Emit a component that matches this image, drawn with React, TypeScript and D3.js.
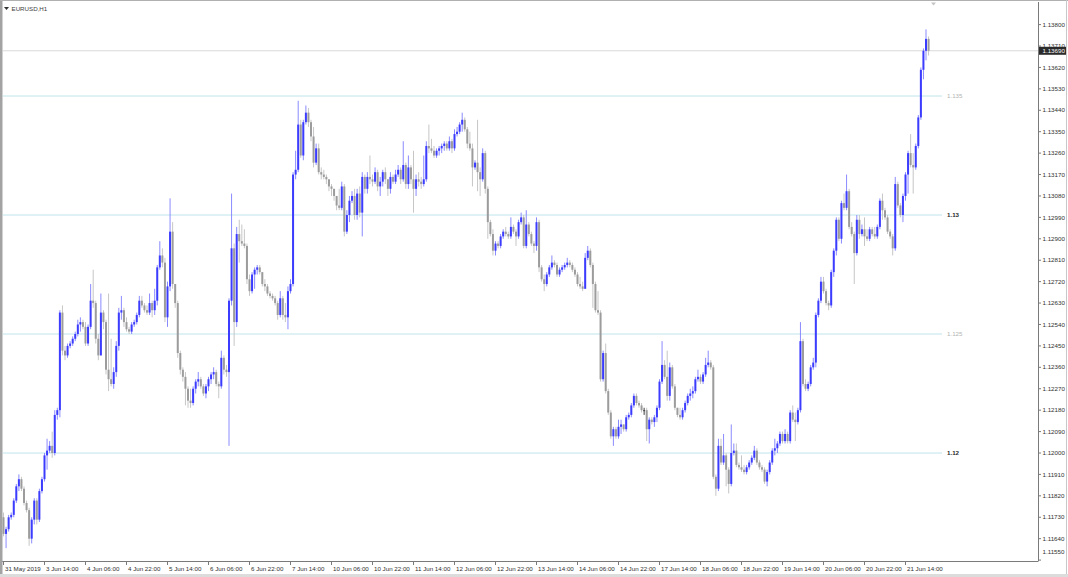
import React from 'react';
import * as d3 from 'd3';

const chartTitle = 'EURUSD,H1';
const firstOpen = 1.1173;

const closes = [
  1.1166, 1.1168, 1.1173, 1.1174, 1.1180, 1.1186, 1.1189, 1.1185, 1.1179, 1.1176,
  1.1164, 1.1172, 1.1180, 1.1172, 1.1184, 1.1189, 1.1199, 1.1201, 1.1203, 1.1200,
  1.1216, 1.1218, 1.1259, 1.1243, 1.1241, 1.1245, 1.1246, 1.1248, 1.1250, 1.1254,
  1.1255, 1.1253, 1.1246, 1.1253, 1.1264, 1.1263, 1.1248, 1.1241, 1.1259, 1.1255,
  1.1235, 1.1231, 1.1229, 1.1234, 1.1245, 1.1259, 1.1260, 1.1255, 1.1252, 1.1251,
  1.1254, 1.1255, 1.1258, 1.1264, 1.1262, 1.1260, 1.1259, 1.1263, 1.1260, 1.1264,
  1.1278, 1.1283, 1.1280, 1.1257, 1.1270, 1.1293, 1.1271, 1.1263, 1.1242, 1.1235,
  1.1232, 1.1227, 1.1222, 1.1221, 1.1227, 1.1230, 1.1231, 1.1228, 1.1225, 1.1228,
  1.1231, 1.1233, 1.1234, 1.1229, 1.1228, 1.1240, 1.1235, 1.1234, 1.1264, 1.1286,
  1.1255, 1.1292, 1.1289, 1.1288, 1.1287, 1.1273, 1.1268, 1.1275, 1.1277, 1.1278,
  1.1276, 1.1271, 1.1270, 1.1267, 1.1266, 1.1265, 1.1263, 1.1258, 1.1265, 1.1258,
  1.1257, 1.1268, 1.1271, 1.1317, 1.1319, 1.1338, 1.1325, 1.1339, 1.1343, 1.1339,
  1.1333, 1.1322, 1.1328, 1.1318, 1.1317, 1.1316, 1.1315, 1.1312, 1.1311, 1.1308,
  1.1304, 1.1303, 1.1312, 1.1293, 1.1300, 1.1306, 1.1308, 1.1300, 1.1309, 1.1301,
  1.1316, 1.1311, 1.1316, 1.1315, 1.1314, 1.1318, 1.1312, 1.1314, 1.1318, 1.1315,
  1.1311, 1.1316, 1.1314, 1.1317, 1.1319, 1.1315, 1.1321, 1.1313, 1.1320, 1.1315,
  1.1311, 1.1315, 1.1314, 1.1313, 1.1315, 1.1329, 1.1328, 1.1327, 1.1325, 1.1327,
  1.1328, 1.1329, 1.1330, 1.1328, 1.1331, 1.1328, 1.1334, 1.1335, 1.1338, 1.1340,
  1.1336, 1.1330, 1.1328, 1.1320, 1.1322, 1.1318, 1.1315, 1.1326, 1.1311, 1.1297,
  1.1292, 1.1285, 1.1288, 1.1287, 1.1291, 1.1293, 1.1292, 1.1291, 1.1295, 1.1293,
  1.1291, 1.1297, 1.1299, 1.1287, 1.1296, 1.1292, 1.1288, 1.1287, 1.1297, 1.1278,
  1.1273, 1.1271, 1.1275, 1.1278, 1.1280, 1.1279, 1.1275, 1.1277, 1.1278, 1.1279,
  1.1280, 1.1279, 1.1277, 1.1275, 1.1271, 1.1270, 1.1269, 1.1282, 1.1285, 1.1279,
  1.1271, 1.1260, 1.1259, 1.1231, 1.1242, 1.1226, 1.1217, 1.1207, 1.1210, 1.1207,
  1.1211, 1.1212, 1.1210, 1.1215, 1.1216, 1.1220, 1.1224, 1.1221, 1.1220, 1.1218,
  1.1218, 1.1210, 1.1214, 1.1213, 1.1215, 1.1219, 1.1230, 1.1237, 1.1232, 1.1224,
  1.1236, 1.1228, 1.1219, 1.1216, 1.1215, 1.1218, 1.1221, 1.1224, 1.1225, 1.1226,
  1.1231, 1.1232, 1.1230, 1.1233, 1.1237, 1.1238, 1.1236, 1.1190, 1.1185, 1.1203,
  1.1196, 1.1199, 1.1193, 1.1187, 1.1200, 1.1201, 1.1195, 1.1194, 1.1193, 1.1192,
  1.1194, 1.1196, 1.1198, 1.1201, 1.1196, 1.1194, 1.1193, 1.1188, 1.1192, 1.1196,
  1.1201, 1.1202, 1.1204, 1.1208, 1.1205, 1.1208, 1.1205, 1.1217, 1.1214, 1.1213,
  1.1218, 1.1247, 1.1229, 1.1227, 1.1229, 1.1236, 1.1238, 1.1258, 1.1264, 1.1272,
  1.1268, 1.1263, 1.1262, 1.1276, 1.1285, 1.1298, 1.1290, 1.1305, 1.1303, 1.1310,
  1.1295, 1.1292, 1.1284, 1.1298, 1.1292, 1.1294, 1.1291, 1.1290, 1.1294, 1.1292,
  1.1291, 1.1295, 1.1306, 1.1302, 1.1299, 1.1293, 1.1291, 1.1286, 1.1313, 1.1304,
  1.1300, 1.1308, 1.1317, 1.1326, 1.1321, 1.1320, 1.1329, 1.1341, 1.1361, 1.1369,
  1.1374, 1.1369,
];

const highs = [
  1.1175, 1.1169, 1.1174, 1.1175, 1.1181, 1.1187, 1.1191, 1.1190, 1.1186, 1.1180,
  1.1177, 1.1173, 1.1181, 1.1181, 1.1185, 1.1190, 1.1200, 1.1206, 1.1205, 1.1209,
  1.1218, 1.1219, 1.1260, 1.1262, 1.1245, 1.1246, 1.1247, 1.1249, 1.1251, 1.1256,
  1.1257, 1.1256, 1.1255, 1.1254, 1.1271, 1.1277, 1.1264, 1.1250, 1.1267, 1.1260,
  1.1256, 1.1267, 1.1248, 1.1236, 1.1247, 1.1261, 1.1266, 1.1261, 1.1257, 1.1253,
  1.1255, 1.1256, 1.1259, 1.1266, 1.1266, 1.1263, 1.1262, 1.1267, 1.1264, 1.1269,
  1.1279, 1.1289, 1.1286, 1.1282, 1.1272, 1.1307, 1.1297, 1.1271, 1.1264, 1.1243,
  1.1236, 1.1234, 1.1228, 1.1227, 1.1228, 1.1231, 1.1234, 1.1232, 1.1229, 1.1229,
  1.1232, 1.1234, 1.1236, 1.1235, 1.1230, 1.1243, 1.1241, 1.1237, 1.1265, 1.1309,
  1.1288, 1.1295, 1.1298, 1.1296, 1.1294, 1.1288, 1.1275, 1.1276, 1.1278, 1.1279,
  1.1279, 1.1276, 1.1273, 1.1271, 1.1268, 1.1267, 1.1266, 1.1264, 1.1268, 1.1266,
  1.1263, 1.1270, 1.1273, 1.1318, 1.1327, 1.1348, 1.1340, 1.1340, 1.1346, 1.1345,
  1.1340, 1.1337, 1.1330, 1.1330, 1.1320, 1.1319, 1.1317, 1.1315, 1.1313, 1.1311,
  1.1308, 1.1311, 1.1314, 1.1313, 1.1302, 1.1308, 1.1310, 1.1311, 1.1311, 1.1312,
  1.1318, 1.1317, 1.1318, 1.1325, 1.1317, 1.1320, 1.1319, 1.1316, 1.1319, 1.1320,
  1.1315, 1.1318, 1.1317, 1.1319, 1.1321, 1.1320, 1.1331, 1.1322, 1.1325, 1.1321,
  1.1327, 1.1317, 1.1318, 1.1316, 1.1325, 1.1331, 1.1338, 1.1332, 1.1329, 1.1328,
  1.1329, 1.1330, 1.1331, 1.1331, 1.1333, 1.1332, 1.1336, 1.1337, 1.1339, 1.1343,
  1.1341, 1.1337, 1.1335, 1.1330, 1.1323, 1.1340, 1.1320, 1.1328, 1.1327, 1.1312,
  1.1298, 1.1294, 1.1289, 1.1289, 1.1292, 1.1294, 1.1295, 1.1293, 1.1299, 1.1296,
  1.1294, 1.1298, 1.1301, 1.1300, 1.1302, 1.1297, 1.1293, 1.1289, 1.1299, 1.1298,
  1.1279, 1.1275, 1.1276, 1.1279, 1.1283, 1.1281, 1.1280, 1.1278, 1.1279, 1.1280,
  1.1282, 1.1281, 1.1280, 1.1278, 1.1276, 1.1274, 1.1272, 1.1284, 1.1287, 1.1286,
  1.1280, 1.1272, 1.1268, 1.1260, 1.1243, 1.1246, 1.1227, 1.1218, 1.1211, 1.1211,
  1.1214, 1.1214, 1.1212, 1.1216, 1.1217, 1.1221, 1.1225, 1.1225, 1.1222, 1.1221,
  1.1219, 1.1219, 1.1215, 1.1215, 1.1216, 1.1220, 1.1231, 1.1247, 1.1239, 1.1243,
  1.1238, 1.1237, 1.1229, 1.1219, 1.1219, 1.1219, 1.1222, 1.1225, 1.1227, 1.1228,
  1.1232, 1.1235, 1.1233, 1.1234, 1.1240, 1.1243, 1.1239, 1.1237, 1.1191, 1.1206,
  1.1206, 1.1208, 1.1200, 1.1194, 1.1212, 1.1204, 1.1204, 1.1196, 1.1199, 1.1195,
  1.1195, 1.1197, 1.1199, 1.1203, 1.1202, 1.1197, 1.1195, 1.1194, 1.1193, 1.1197,
  1.1202, 1.1206, 1.1205, 1.1209, 1.1209, 1.1210, 1.1209, 1.1218, 1.1220, 1.1217,
  1.1219, 1.1255, 1.1248, 1.1231, 1.1230, 1.1237, 1.1240, 1.1259, 1.1265, 1.1274,
  1.1274, 1.1269, 1.1264, 1.1277, 1.1286, 1.1299, 1.1299, 1.1306, 1.1309, 1.1317,
  1.1311, 1.1297, 1.1293, 1.1300, 1.1300, 1.1296, 1.1299, 1.1294, 1.1295, 1.1295,
  1.1295, 1.1296, 1.1307, 1.1309, 1.1303, 1.1300, 1.1294, 1.1292, 1.1316, 1.1314,
  1.1305, 1.1309, 1.1318, 1.1327, 1.1334, 1.1326, 1.1330, 1.1342, 1.1362, 1.1370,
  1.1378, 1.1375,
];

const lows = [
  1.1165, 1.1160, 1.1167, 1.1172, 1.1173, 1.1179, 1.1184, 1.1184, 1.1178, 1.1175,
  1.1161, 1.1162, 1.1170, 1.1170, 1.1171, 1.1183, 1.1188, 1.1193, 1.1200, 1.1198,
  1.1199, 1.1214, 1.1215, 1.1241, 1.1239, 1.1240, 1.1244, 1.1245, 1.1247, 1.1249,
  1.1251, 1.1252, 1.1245, 1.1245, 1.1252, 1.1261, 1.1246, 1.1239, 1.1241, 1.1252,
  1.1233, 1.1226, 1.1228, 1.1227, 1.1232, 1.1243, 1.1256, 1.1253, 1.1251, 1.1250,
  1.1250, 1.1253, 1.1254, 1.1257, 1.1261, 1.1259, 1.1258, 1.1258, 1.1257, 1.1258,
  1.1262, 1.1277, 1.1278, 1.1255, 1.1253, 1.1268, 1.1269, 1.1261, 1.1240, 1.1233,
  1.1230, 1.1220, 1.1219, 1.1219, 1.1220, 1.1225, 1.1228, 1.1227, 1.1224, 1.1223,
  1.1226, 1.1229, 1.1231, 1.1228, 1.1223, 1.1227, 1.1233, 1.1232, 1.1203, 1.1262,
  1.1245, 1.1253, 1.1280, 1.1287, 1.1286, 1.1271, 1.1266, 1.1267, 1.1269, 1.1275,
  1.1275, 1.1270, 1.1268, 1.1266, 1.1265, 1.1264, 1.1262, 1.1256, 1.1257, 1.1256,
  1.1255, 1.1252, 1.1267, 1.1270, 1.1315, 1.1318, 1.1324, 1.1323, 1.1338, 1.1337,
  1.1331, 1.1320, 1.1321, 1.1317, 1.1315, 1.1315, 1.1313, 1.1310, 1.1308, 1.1306,
  1.1302, 1.1302, 1.1302, 1.1291, 1.1292, 1.1297, 1.1305, 1.1298, 1.1298, 1.1299,
  1.1291, 1.1309, 1.1309, 1.1313, 1.1312, 1.1313, 1.1310, 1.1308, 1.1312, 1.1313,
  1.1308, 1.1309, 1.1313, 1.1313, 1.1316, 1.1313, 1.1314, 1.1311, 1.1311, 1.1313,
  1.1301, 1.1308, 1.1312, 1.1311, 1.1312, 1.1314, 1.1326, 1.1326, 1.1324, 1.1324,
  1.1325, 1.1326, 1.1327, 1.1327, 1.1327, 1.1326, 1.1327, 1.1333, 1.1334, 1.1335,
  1.1335, 1.1328, 1.1327, 1.1312, 1.1319, 1.1310, 1.1308, 1.1314, 1.1309, 1.1290,
  1.1291, 1.1283, 1.1283, 1.1286, 1.1286, 1.1290, 1.1291, 1.1290, 1.1290, 1.1292,
  1.1287, 1.1290, 1.1296, 1.1286, 1.1286, 1.1291, 1.1287, 1.1284, 1.1285, 1.1276,
  1.1272, 1.1268, 1.1270, 1.1274, 1.1277, 1.1278, 1.1274, 1.1274, 1.1276, 1.1277,
  1.1278, 1.1278, 1.1276, 1.1274, 1.1270, 1.1269, 1.1268, 1.1269, 1.1281, 1.1278,
  1.1261, 1.1259, 1.1258, 1.1230, 1.1230, 1.1225, 1.1216, 1.1206, 1.1203, 1.1206,
  1.1206, 1.1208, 1.1209, 1.1209, 1.1214, 1.1215, 1.1219, 1.1220, 1.1219, 1.1217,
  1.1216, 1.1205, 1.1204, 1.1212, 1.1211, 1.1213, 1.1218, 1.1229, 1.1231, 1.1222,
  1.1222, 1.1227, 1.1218, 1.1215, 1.1214, 1.1214, 1.1217, 1.1220, 1.1222, 1.1223,
  1.1225, 1.1230, 1.1229, 1.1229, 1.1232, 1.1236, 1.1235, 1.1189, 1.1182, 1.1184,
  1.1195, 1.1195, 1.1186, 1.1183, 1.1186, 1.1199, 1.1194, 1.1193, 1.1192, 1.1191,
  1.1191, 1.1193, 1.1195, 1.1197, 1.1195, 1.1193, 1.1192, 1.1187, 1.1186, 1.1191,
  1.1195, 1.1199, 1.1200, 1.1203, 1.1204, 1.1204, 1.1204, 1.1204, 1.1213, 1.1205,
  1.1212, 1.1217, 1.1228, 1.1226, 1.1226, 1.1228, 1.1235, 1.1236, 1.1257, 1.1263,
  1.1267, 1.1262, 1.1260, 1.1261, 1.1274, 1.1283, 1.1289, 1.1288, 1.1302, 1.1302,
  1.1294, 1.1291, 1.1271, 1.1283, 1.1290, 1.1291, 1.1287, 1.1289, 1.1289, 1.1291,
  1.1290, 1.1290, 1.1294, 1.1298, 1.1298, 1.1292, 1.1290, 1.1283, 1.1285, 1.1303,
  1.1299, 1.1297, 1.1306, 1.1309, 1.1320, 1.1309, 1.1319, 1.1328, 1.1340, 1.1357,
  1.1365, 1.1367,
];

const priceTicks = [
  1.138, 1.1371, 1.1362, 1.1353, 1.1344, 1.1335, 1.1326, 1.1317, 1.1308, 1.1299,
  1.129, 1.1281, 1.1272, 1.1263, 1.1254, 1.1245, 1.1236, 1.1227, 1.1218, 1.1209,
  1.12, 1.1191, 1.1182, 1.1173, 1.1164, 1.1155,
];

const levelPrices = [1.135, 1.13, 1.125, 1.12];
const levelTexts = ['1.135', '1.13', '1.125', '1.12'];
const levelIsMajor = [false, true, false, true];

const currentPrice = 1.1369;

const timeLabels = [
  '31 May 2019', '3 Jun 14:00', '4 Jun 06:00', '4 Jun 22:00', '5 Jun 14:00',
  '6 Jun 06:00', '6 Jun 22:00', '7 Jun 14:00', '10 Jun 06:00', '10 Jun 22:00',
  '11 Jun 14:00', '12 Jun 06:00', '12 Jun 22:00', '13 Jun 14:00', '14 Jun 06:00',
  '14 Jun 22:00', '17 Jun 14:00', '18 Jun 06:00', '18 Jun 22:00', '19 Jun 14:00',
  '20 Jun 06:00', '20 Jun 22:00', '21 Jun 14:00',
];
const barsPerTimeLabel = 16;

const FONT = '"Liberation Sans", Arial, sans-serif';
const FS = 6.2;

export default function App() {
  const W = 1068;
  const H = 577;
  const axisX = 1038;
  const axisY = 561;

  const x = d3.scaleLinear().domain([0, barsPerTimeLabel]).range([3.5, 44.5]);
  const y = d3.scaleLinear().domain([1.12, 1.13]).range([453, 215]);

  const bars = closes.map((c, i) => ({
    i,
    o: i === 0 ? firstOpen : closes[i - 1],
    h: highs[i],
    l: lows[i],
    c,
  }));

  const upBody = '#3c3cff';
  const upWick = '#8a8aff';
  const dnBody = '#9c9c9c';
  const dnWick = '#c6c6c6';
  const dojiCol = '#404040';

  return (
    <svg
      width={W}
      height={H}
      viewBox={`0 0 ${W} ${H}`}
      style={{ position: 'fixed', left: 0, top: 0, background: '#fff' }}
    >
      <rect x={0} y={0} width={W} height={H} fill="#ffffff" />

      {/* level lines */}
      {levelPrices.map((p, k) => (
        <g key={'lv' + k}>
          <line x1={3} x2={942} y1={y(p)} y2={y(p)} stroke="#bfe4ec" strokeWidth={1} />
          <text
            x={947}
            y={y(p)}
            dy="0.35em"
            fontFamily={FONT}
            fontSize={FS}
            fontWeight={levelIsMajor[k] ? 'bold' : 'normal'}
            fill={levelIsMajor[k] ? '#2a2a2a' : '#b4b4b4'}
          >
            {levelTexts[k]}
          </text>
        </g>
      ))}

      {/* current price line */}
      <line x1={3} x2={axisX} y1={y(currentPrice)} y2={y(currentPrice)} stroke="#d9d9d9" strokeWidth={1} />

      {/* bars */}
      {bars.map((b) => {
        const cx = x(b.i);
        const up = b.c > b.o;
        const doji = b.c === b.o;
        const body = doji ? dojiCol : up ? upBody : dnBody;
        const wick = doji ? dojiCol : up ? upWick : dnWick;
        const top = y(Math.max(b.o, b.c));
        const bot = y(Math.min(b.o, b.c));
        return (
          <g key={'b' + b.i}>
            <line x1={cx} x2={cx} y1={y(b.h)} y2={y(b.l)} stroke={wick} strokeWidth={1} />
            <rect x={cx - 1} y={top} width={2} height={Math.max(1, bot - top)} fill={body} />
          </g>
        );
      })}

      {/* right axis */}
      <line x1={axisX + 0.5} x2={axisX + 0.5} y1={2} y2={axisY} stroke="#7a7a7a" strokeWidth={1} />
      {priceTicks.map((p, k) => (
        <g key={'pt' + k}>
          <line x1={axisX} x2={axisX + 3} y1={y(p)} y2={y(p)} stroke="#7a7a7a" strokeWidth={1} />
          <text
            x={axisX + 4.5}
            y={Math.min(y(p), 552)}
            dy="0.35em"
            fontFamily={FONT}
            fontSize={FS}
            fill="#303030"
          >
            {p.toFixed(5)}
          </text>
        </g>
      ))}

      {/* current price tag */}
      <rect x={axisX + 1} y={y(currentPrice) - 4} width={28} height={8} fill="#2b2b2b" />
      <text
        x={axisX + 4.5}
        y={y(currentPrice)}
        dy="0.35em"
        fontFamily={FONT}
        fontSize={FS}
        fill="#ffffff"
      >
        {currentPrice.toFixed(5)}
      </text>

      {/* bottom axis */}
      <line x1={0} x2={axisX + 0.5} y1={axisY + 0.5} y2={axisY + 0.5} stroke="#7a7a7a" strokeWidth={1} />
      {timeLabels.map((t, k) => {
        const tx = Math.round(x(k * barsPerTimeLabel) - 0.5) + 0.5;
        return (
          <g key={'tl' + k}>
            <line x1={tx} x2={tx} y1={axisY} y2={axisY + 4} stroke="#7a7a7a" strokeWidth={1} />
            <text x={tx + 1.5} y={570.5} fontFamily={FONT} fontSize={FS} fill="#303030">
              {t}
            </text>
          </g>
        );
      })}

      {/* title */}
      <path d="M4,7 L9,7 L6.5,10 Z" fill="#303030" />
      <text x={11.5} y={10.5} fontFamily={FONT} fontSize={FS} fill="#404040">
        {chartTitle}
      </text>

      {/* shift marker */}
      <path d="M931,2.5 L936,2.5 L933.5,5.5 Z" fill="#c4c4c4" />

      {/* frame */}
      <rect x={0} y={0} width={2.5} height={H} fill="#a3a3a3" />
      <line x1={0} x2={W} y1={0.5} y2={0.5} stroke="#b0b0b0" strokeWidth={1} />
      <line x1={W - 1.5} x2={W - 1.5} y1={0} y2={H} stroke="#c8c8c8" strokeWidth={1} />
      <rect x={0} y={574} width={W} height={3} fill="#dcdcdc" />
    </svg>
  );
}
